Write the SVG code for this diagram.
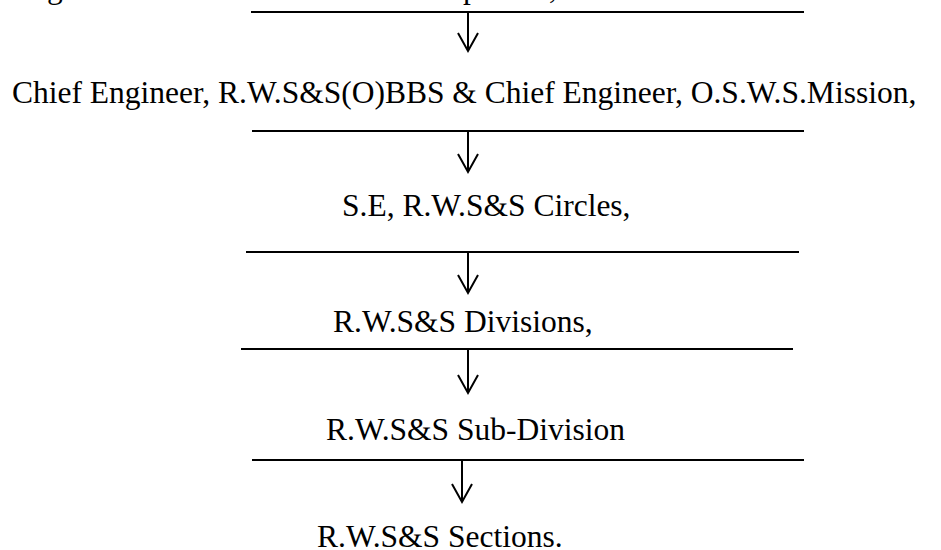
<svg xmlns="http://www.w3.org/2000/svg" width="941" height="550" viewBox="0 0 941 550">
  <style>
    .t { font-family: "Liberation Serif", "Times New Roman", serif; font-size: 31.5px; fill: #000; }
    .bar { stroke: #000; stroke-width: 2; fill: none; }
    .arr { stroke: #000; stroke-width: 2; fill: none; marker-end: url(#ah); }
  </style>
  <defs>
    <marker id="ah" markerUnits="userSpaceOnUse" orient="auto" overflow="visible" refX="0" refY="0" markerWidth="20" markerHeight="20">
      <path d="M-18,-10 L0,0 L-18,10" fill="none" stroke="#000" stroke-width="2" stroke-linejoin="miter"/>
    </marker>
  </defs>
  <rect width="941" height="550" fill="#fff"/>

  <g id="node-top">
    <text class="t" y="-2"><tspan x="47">g</tspan><tspan x="463">p</tspan><tspan x="549">,</tspan></text>
  </g>
  <g id="node-chief-engineer">
    <text class="t" x="12" y="103">Chief Engineer, R.W.S&amp;S(O)BBS &amp; Chief Engineer, O.S.W.S.Mission,</text>
  </g>
  <g id="node-se-circles">
    <text class="t" x="342" y="216">S.E, R.W.S&amp;S Circles,</text>
  </g>
  <g id="node-divisions">
    <text class="t" x="333" y="332">R.W.S&amp;S Divisions,</text>
  </g>
  <g id="node-sub-division">
    <text class="t" x="326" y="440">R.W.S&amp;S Sub-Division</text>
  </g>
  <g id="node-sections">
    <text class="t" x="317" y="547">R.W.S&amp;S Sections.</text>
  </g>

  <g id="connectors">
    <line class="bar" x1="251" y1="12" x2="804" y2="12"/>
    <line class="arr" x1="468" y1="12" x2="468" y2="51"/>
    <line class="bar" x1="252" y1="131" x2="804" y2="131"/>
    <line class="arr" x1="468" y1="131" x2="468" y2="172"/>
    <line class="bar" x1="246" y1="252" x2="799" y2="252"/>
    <line class="arr" x1="468" y1="252" x2="468" y2="293"/>
    <line class="bar" x1="241" y1="349" x2="793" y2="349"/>
    <line class="arr" x1="468" y1="349" x2="468" y2="393"/>
    <line class="bar" x1="252" y1="460" x2="804" y2="460"/>
    <line class="arr" x1="462" y1="460" x2="462" y2="502"/>
  </g>
</svg>
